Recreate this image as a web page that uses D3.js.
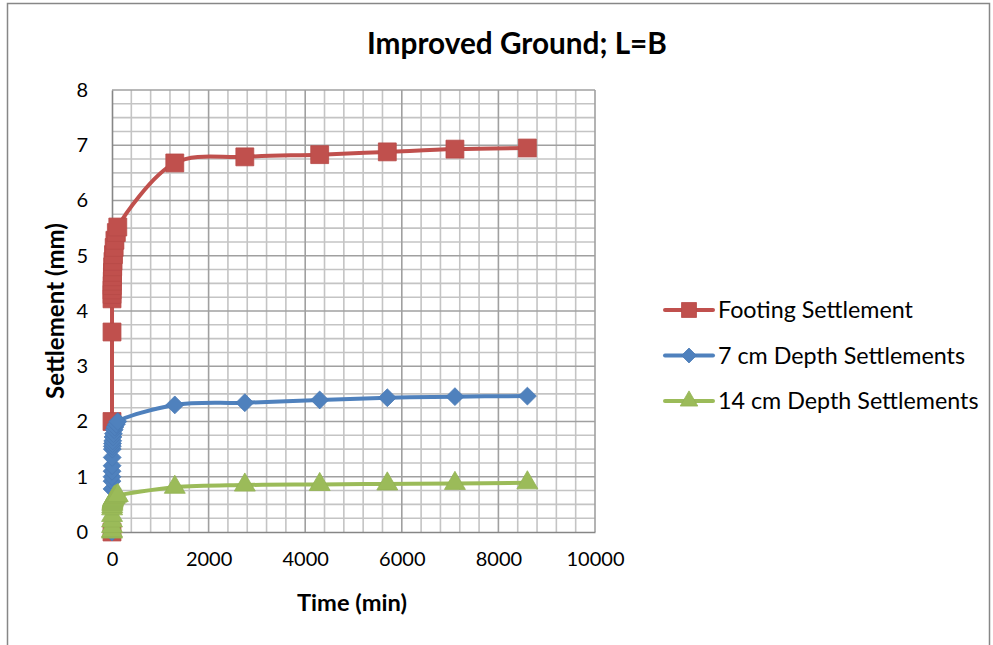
<!DOCTYPE html>
<html>
<head>
<meta charset="utf-8">
<script src="https://cdn.jsdelivr.net/npm/d3@7"></script>
<style>
  html, body { margin: 0; padding: 0; background: #fff; }
  svg { display: block; font-family: Lato, "Open Sans", sans-serif; }
</style>
</head>
<body>
<svg id="chart" width="993" height="645"></svg>
<script>
// Elapsed time of each reading (min)
const timeMin = [0, 0.1, 0.25, 0.5, 1, 2, 4, 6, 8, 10, 15, 20, 30, 45, 60, 90, 120,
                 1300, 2750, 4300, 5700, 7100, 8600];
// Settlement readings (mm)
const footingSettlement = [0, 2.0, 3.62, 4.22, 4.3, 4.38, 4.46, 4.54, 4.62, 4.7, 4.8, 4.9, 5.02, 5.15, 5.28, 5.42, 5.52,
                           6.68, 6.79, 6.83, 6.88, 6.93, 6.95];
const depth7Settlement = [0, 0.78, 0.92, 1.0, 1.1, 1.2, 1.35, 1.5, 1.55, 1.6, 1.65, 1.72, 1.78, 1.85, 1.9, 1.95, 2.0,
                          2.3, 2.34, 2.39, 2.43, 2.45, 2.46];
const depth14Settlement = [0, 0.02, 0.1, 0.2, 0.3, 0.42, 0.46, 0.5, 0.52, 0.54, 0.56, 0.58, 0.6, 0.62, 0.63, 0.65, 0.66,
                           0.81, 0.85, 0.86, 0.87, 0.88, 0.89];

const seriesNames = ["Footing Settlement", "7 cm Depth Settlements", "14 cm Depth Settlements"];
const xTicks = [0, 2000, 4000, 6000, 8000, 10000];
const yTicks = [0, 1, 2, 3, 4, 5, 6, 7, 8];

// wide diamond marker (equal width and height)
const symbolWideDiamond = {
  draw(ctx, size) {
    const r = Math.sqrt(size / 2);
    ctx.moveTo(0, -r); ctx.lineTo(r, 0); ctx.lineTo(0, r); ctx.lineTo(-r, 0); ctx.closePath();
  }
};

const series = [
  { name: seriesNames[0], values: footingSettlement, color: "#C0504D", stroke: "#B74A47", symbol: d3.symbolSquare, size: 320 },
  { name: seriesNames[1], values: depth7Settlement, color: "#4F81BD", stroke: "#4A7AB5", symbol: symbolWideDiamond, size: 160 },
  { name: seriesNames[2], values: depth14Settlement, color: "#9BBB59", stroke: "#93B254", symbol: d3.symbolTriangle, size: 190 }
];

const svg = d3.select("#chart");

// fit a text element to a given width by adjusting its font size
function fitWidth(sel, width) {
  const fs = parseFloat(sel.attr("font-size"));
  const w = sel.node().getComputedTextLength();
  if (w > 0) sel.attr("font-size", (fs * width / w).toFixed(2));
  return sel;
}

// chart area frame
svg.append("rect")
  .attr("x", 7.5).attr("y", 3.5).attr("width", 982).attr("height", 700)
  .attr("fill", "#fff").attr("stroke", "#878787").attr("stroke-width", 1.5);

const x = d3.scaleLinear().domain([0, 10000]).range([112, 595]);
const y = d3.scaleLinear().domain([0, 8]).range([532, 90]);

// minor gridlines
const grid = svg.append("g");
d3.range(400, 10001, 400).filter(v => v % 2000 !== 0).forEach(v => {
  grid.append("line").attr("x1", x(v)).attr("x2", x(v)).attr("y1", y(0)).attr("y2", y(8))
    .attr("stroke", "#C4C4C4").attr("stroke-width", 1.6);
});
d3.range(0.25, 8.001, 0.25).filter(v => v % 1 !== 0).forEach(v => {
  grid.append("line").attr("x1", x(0)).attr("x2", x(10000)).attr("y1", y(v)).attr("y2", y(v))
    .attr("stroke", "#C4C4C4").attr("stroke-width", 1.6);
});
// major gridlines
xTicks.filter(v => v > 0).forEach(v => {
  grid.append("line").attr("x1", x(v)).attr("x2", x(v)).attr("y1", y(0)).attr("y2", y(8))
    .attr("stroke", "#A0A0A0").attr("stroke-width", 1.6);
});
yTicks.filter(v => v > 0).forEach(v => {
  grid.append("line").attr("x1", x(0)).attr("x2", x(10000)).attr("y1", y(v)).attr("y2", y(v))
    .attr("stroke", "#A0A0A0").attr("stroke-width", 1.6);
});

// axes
const xAxis = svg.append("g").attr("transform", `translate(0,${y(0)})`)
  .call(d3.axisBottom(x).tickValues(xTicks).tickFormat(d3.format("d")).tickSize(0).tickPadding(20));
const yAxis = svg.append("g").attr("transform", `translate(${x(0)},0)`)
  .call(d3.axisLeft(y).tickValues(yTicks).tickFormat(d3.format("d")).tickSize(0).tickPadding(24));
[xAxis, yAxis].forEach(a => {
  a.select(".domain").attr("stroke", "#868686").attr("stroke-width", 1.6);
  a.selectAll("text").attr("font-family", "Lato, sans-serif").attr("font-size", 20).attr("fill", "#000");
});

// series lines and markers
const line = d3.line()
  .x(d => x(d.t)).y(d => y(d.v))
  .curve(d3.curveCatmullRom.alpha(0.5));

series.forEach(s => {
  const pts = timeMin.map((t, i) => ({ t, v: s.values[i] }));
  const g = svg.append("g");
  g.append("path").datum(pts).attr("d", line)
    .attr("fill", "none").attr("stroke", s.color).attr("stroke-width", 4)
    .attr("stroke-linejoin", "round").attr("stroke-linecap", "round");
  g.selectAll("path.mk").data(pts).join("path").attr("class", "mk")
    .attr("d", d3.symbol().type(s.symbol).size(s.size))
    .attr("transform", d => `translate(${x(d.t)},${y(d.v)})`)
    .attr("fill", s.color).attr("stroke", s.stroke).attr("stroke-width", 0.8);
});

// title
fitWidth(svg.append("text").attr("x", 517).attr("y", 54).attr("text-anchor", "middle")
  .attr("font-size", 24).attr("font-weight", "bold").attr("fill", "#000")
  .text("Improved Ground; L=B"), 300);

// axis titles
fitWidth(svg.append("text").attr("x", 352).attr("y", 611).attr("text-anchor", "middle")
  .attr("font-size", 20).attr("font-weight", "bold").attr("fill", "#000")
  .text("Time (min)"), 110);
fitWidth(svg.append("text").attr("transform", "translate(64,311) rotate(-90)").attr("text-anchor", "middle")
  .attr("font-size", 20).attr("font-weight", "bold").attr("fill", "#000")
  .text("Settlement (mm)"), 176);

// legend
const legend = svg.append("g");
series.forEach((s, i) => {
  const ly = 310 + i * 45.5;
  legend.append("line").attr("x1", 665).attr("x2", 713).attr("y1", ly).attr("y2", ly)
    .attr("stroke", s.color).attr("stroke-width", 4).attr("stroke-linecap", "round");
  legend.append("path").attr("d", d3.symbol().type(s.symbol).size(s.size * 0.7))
    .attr("transform", `translate(689,${ly})`).attr("fill", s.color).attr("stroke", s.stroke).attr("stroke-width", 0.8);
  const t = legend.append("text").attr("x", 718).attr("y", ly).attr("dy", "0.35em")
    .attr("font-size", 20).attr("fill", "#000").text(s.name);
  if (i === 0) fitWidth(t, 195);
  else t.attr("font-size", legend.select("text").attr("font-size"));
});
</script>
</body>
</html>
